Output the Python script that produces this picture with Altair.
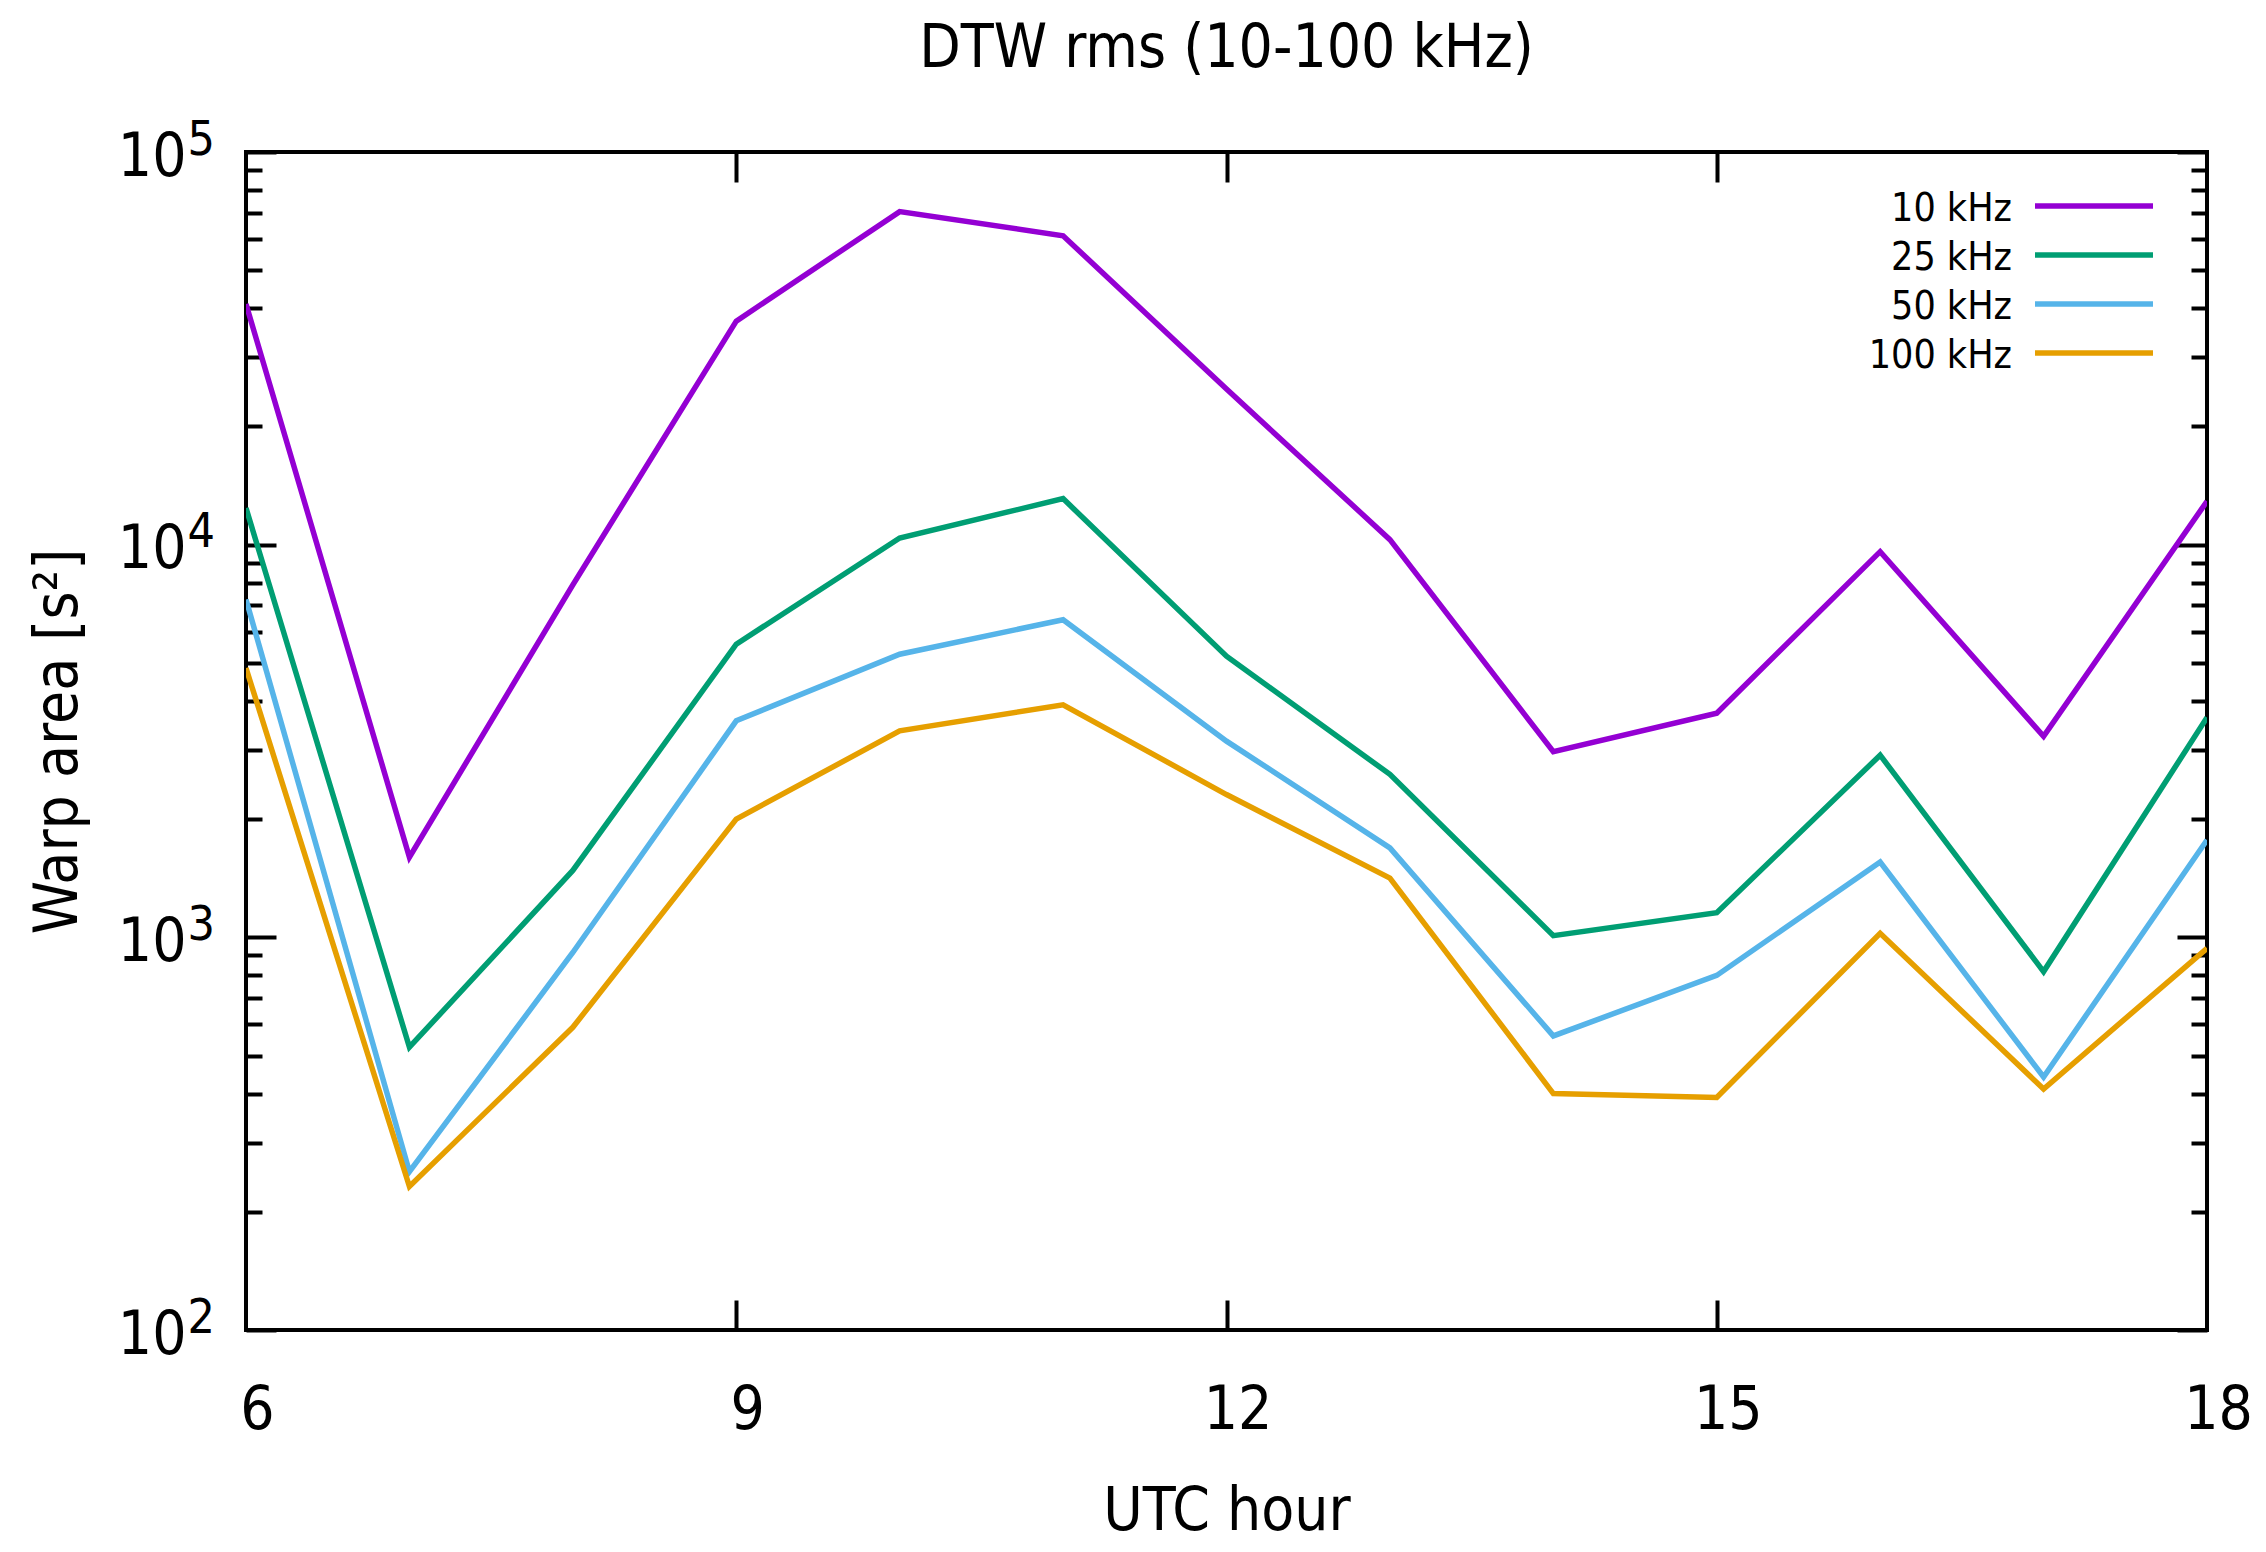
import altair as alt
import pandas as pd

# ---------------- data ----------------
hours = [6, 7, 8, 9, 10, 11, 12, 13, 14, 15, 16, 17, 18]
series = ["10 kHz", "25 kHz", "50 kHz", "100 kHz"]
colors = ["#9400d3", "#009e73", "#56b4e9", "#e69f00"]

v10 = [41000, 1600, 7900, 37100, 70500, 61200, 24900, 10300, 2970, 3720, 9600, 3250, 12900]
v25 = [12400, 525, 1480, 5580, 10400, 13100, 5200, 2600, 1010, 1155, 2910, 818, 3630]
v50 = [7250, 253, 915, 3560, 5260, 6440, 3160, 1690, 561, 800, 1555, 441, 1770]
v100 = [4850, 232, 590, 2000, 3356, 3910, 2310, 1415, 400, 391, 1024, 411, 938]

x_major = [6, 9, 12, 15, 18]
x_inner = [9, 12, 15]
y_major = [100, 1000, 10000, 100000]
y_minor = [m * d for d in [100, 1000, 10000] for m in range(2, 10)]

rows = []
for name, vals in zip(series, [v10, v25, v50, v100]):
    for h, v in zip(hours, vals):
        rows.append({"hour": h, "area": v, "series": name})
df = pd.DataFrame(rows)
legend_df = pd.DataFrame({"series": series})

# ---------------- layout ----------------
W, H = 1961, 1178
FONT = "DejaVu Sans Condensed, DejaVu Sans"
MAJ, MIN = 30, 16

xs = alt.Scale(domain=[6, 18], nice=False, zero=False)
ys = alt.Scale(type="log", domain=[100, 100000], nice=False)
cs = alt.Scale(domain=series, range=colors)


def tick_axis(orient, values, size):
    return alt.Axis(orient=orient, values=values, labels=False, domain=False,
                    grid=False, ticks=True, tickSize=size, tickWidth=4,
                    tickColor="black", offset=-size, title=None)


x_label_axis = alt.Axis(
    orient="bottom", values=x_major, format="d", ticks=False, tickSize=0,
    domain=False, grid=False, labelFont=FONT, labelFontSize=60,
    labelColor="black", labelPadding=98, labelBaseline="alphabetic",
    labelOffset=11, labelFlush=False, labelOverlap=False,
    title="UTC hour", titleFont=FONT, titleFontSize=60, titleFontWeight="normal",
    titleColor="black", titleX=W / 2, titleY=199, titleBaseline="alphabetic",
    titleAlign="center")

y_label_axis = alt.Axis(
    orient="left", values=y_major, labelExpr="'10'", ticks=False, tickSize=0,
    domain=False, grid=False, labelFont=FONT, labelFontSize=60,
    labelColor="black", labelPadding=60, labelAlign="right",
    labelBaseline="alphabetic", labelOffset=23, labelFlush=False,
    labelOverlap=False,
    title="Warp area [s²]", titleFont=FONT, titleFontSize=60,
    titleFontWeight="normal", titleColor="black", titleX=-170, titleY=H / 2,
    titleAngle=270, titleBaseline="alphabetic", titleAlign="center")

y_exp_axis = alt.Axis(
    orient="left", values=y_major,
    labelExpr="'' + round(log(datum.value) / LN10)", ticks=False, tickSize=0,
    domain=False, grid=False, labelFont=FONT, labelFontSize=48,
    labelColor="black", labelPadding=59, labelAlign="left",
    labelBaseline="alphabetic", labelOffset=2, labelFlush=False,
    labelOverlap=False, title=None)

lines = alt.Chart(df).mark_line(strokeWidth=5.5, clip=True).encode(
    x=alt.X("hour:Q", scale=xs, axis=x_label_axis),
    y=alt.Y("area:Q", scale=ys, axis=y_label_axis),
    color=alt.Color("series:N", scale=cs, legend=None, sort=series),
)


def ghost(xaxis, yaxis):
    return alt.Chart(df).mark_point(opacity=0).encode(
        x=alt.X("hour:Q", scale=xs, axis=xaxis),
        y=alt.Y("area:Q", scale=ys, axis=yaxis),
    )


g1 = ghost(tick_axis("bottom", x_inner, MAJ), y_exp_axis)
g2 = ghost(tick_axis("top", x_inner, MAJ), tick_axis("left", y_major, MAJ))
g3 = ghost(None, tick_axis("left", y_minor, MIN))
g4 = ghost(None, tick_axis("right", y_major, MAJ))
g5 = ghost(None, tick_axis("right", y_minor, MIN))

ly = alt.Y("series:N", scale=alt.Scale(type="point", domain=series,
                                        range=[54, 201], padding=0), axis=None)
leg_rule = alt.Chart(legend_df).mark_rule(strokeWidth=5.5).encode(
    x=alt.value(1789), x2=alt.value(1907), y=ly,
    color=alt.Color("series:N", scale=cs, legend=None),
)
leg_text = alt.Chart(legend_df).mark_text(
    align="right", baseline="alphabetic", dy=15, font=FONT, fontSize=39,
    color="black").encode(x=alt.value(1766), y=ly, text="series:N")

chart = alt.layer(lines, g1, g2, g3, g4, g5, leg_rule, leg_text).resolve_scale(
    x="independent", y="independent"
).properties(
    width=W, height=H,
    background="white",
    padding={"left": 238, "top": 144, "right": 50, "bottom": 214},
    autosize=alt.AutoSizeParams(type="none"),
    title=alt.TitleParams("DTW rms (10-100 kHz)", font=FONT, fontSize=60,
                          fontWeight="normal", color="black", anchor="middle",
                          frame="group", baseline="alphabetic", offset=0,
                          dy=11),
).configure_view(
    stroke="black", strokeWidth=4
)

chart.save("out.html", embed_options={"renderer": "svg", "actions": False})
